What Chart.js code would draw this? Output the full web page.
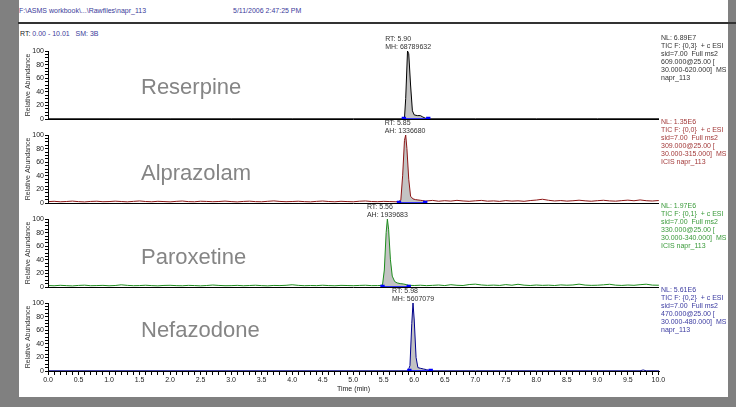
<!DOCTYPE html>
<html><head><meta charset="utf-8">
<script src="https://cdn.jsdelivr.net/npm/chart.js@4/dist/chart.umd.min.js"></script>
<style>
html,body{margin:0;padding:0;width:736px;height:407px;overflow:hidden;background:#808080;font-family:"Liberation Sans",Arial,sans-serif;}
#page{position:absolute;left:19px;top:0;width:709px;height:397px;background:#fff;}
#rule{position:absolute;left:18px;top:22px;width:718px;height:2px;background:#333;}
.hdr{position:absolute;font-size:7px;color:#3b3b9a;white-space:pre;line-height:1;}
canvas{position:absolute;left:0;top:0;}
</style></head><body>
<div id="page"></div>
<div id="rule"></div>
<div class="hdr" style="left:19px;top:7px">F:\ASMS workbook\...\Rawfiles\napr_113</div>
<div class="hdr" style="left:233px;top:7px">5/11/2006 2:47:25 PM</div>
<div class="hdr" style="left:20px;top:30px"><span style="color:#222">RT:</span> 0.00 - 10.01   SM: 3B</div>
<canvas id="c" width="736" height="407"></canvas>
<script>
// ---------------- data ----------------
const panelNames = ['Reserpine','Alprazolam','Paroxetine','Nefazodone'];
const peakRT = [5.90, 5.85, 5.56, 5.98];
const peakRTLabels = ['RT: 5.90','RT: 5.85','RT: 5.56','RT: 5.98'];
const peakAreaLabels = ['MH: 68789632','AH: 1336680','AH: 1939683','MH: 5607079'];
const infoNL = ['NL: 6.89E7','NL: 1.35E6','NL: 1.97E6','NL: 5.61E6'];
const infoFilter = ['TIC F: {0,3}  + c ESI','TIC F: {0,0}  + c ESI','TIC F: {0,1}  + c ESI','TIC F: {0,2}  + c ESI'];
const infoSid = ['sid=7.00  Full ms2','sid=7.00  Full ms2','sid=7.00  Full ms2','sid=7.00  Full ms2'];
const infoPrecursor = ['609.000@25.00 [','309.000@25.00 [','330.000@25.00 [','470.000@25.00 ['];
const infoRange = ['30.000-620.000]  MS','30.000-315.000]  MS','30.000-340.000]  MS','30.000-480.000]  MS'];
const infoFile = ['napr_113','ICIS napr_113','ICIS napr_113','napr_113'];
const integrationWindows = [[5.83, 6.23], [5.75, 6.18], [5.48, 5.91], [5.92, 6.27]];

const xMajorTicks = [0.0,0.5,1.0,1.5,2.0,2.5,3.0,3.5,4.0,4.5,5.0,5.5,6.0,6.5,7.0,7.5,8.0,8.5,9.0,9.5,10.0];
const yTickValues = [0,5,10,15,20,25,30,35,40,45,50,55,60,65,70,75,80,85,90,95,100];
const yTickLabels = ['0','20','40','60','80','100'];

const resTime = [0.00,1.00,2.00,3.00,4.00,5.00,5.80,5.84,5.86,5.89,5.91,5.94,5.97,6.00,6.05,6.10,6.14,6.18,6.23,7.00,8.00,9.00,10.01];
const resAbund = [0.3,0.3,0.3,0.3,0.3,0.3,0.3,1.0,30,100,96,50,12,6,5,5,3,1.2,0.3,0.3,0.3,0.3,0.3];

const alpTime = [0.0,0.1,0.2,0.3,0.4,0.5,0.6,0.7,0.8,0.9,
 1.0,1.1,1.2,1.3,1.4,1.5,1.6,1.7,1.8,1.9,
 2.0,2.1,2.2,2.3,2.4,2.5,2.6,2.7,2.8,2.9,
 3.0,3.1,3.2,3.3,3.4,3.5,3.6,3.7,3.8,3.9,
 4.0,4.1,4.2,4.3,4.4,4.5,4.6,4.7,4.8,4.9,
 5.0,5.1,5.2,5.3,5.4,5.5,5.6,5.7,
 5.74,5.78,5.81,5.84,5.86,5.88,5.91,5.94,5.98,6.02,6.06,6.10,6.14,6.18,
 6.2,6.3,6.4,6.5,6.6,6.7,6.8,6.9,
 7.0,7.1,7.2,7.3,7.4,7.5,7.6,7.7,7.8,7.9,
 8.0,8.1,8.2,8.3,8.4,8.5,8.6,8.7,8.8,8.9,
 9.0,9.1,9.2,9.3,9.4,9.5,9.6,9.7,9.8,9.9,
 10.0,10.01];
const alpAbund = [2.0,2.5,1.8,2.2,2.8,2.0,1.6,2.3,2.6,1.9,
 2.1,2.7,2.2,1.7,2.4,3.0,2.2,1.8,2.5,2.1,
 1.7,2.4,2.9,2.0,1.8,2.6,2.3,1.9,2.2,2.8,
 2.1,1.6,2.3,2.7,2.0,1.8,2.5,3.1,2.3,1.9,
 2.2,2.6,2.0,1.7,2.4,2.9,2.2,1.8,2.5,2.1,
 1.8,2.6,3.0,2.2,1.9,2.4,2.1,1.8,
 2.2,4,40,92,100,80,35,10,6,5,4.5,4,3.5,2.8,
 3.0,3.8,2.6,3.4,2.8,3.9,3.0,2.5,
 3.2,3.8,2.7,3.1,2.4,3.5,2.8,3.2,2.5,3.6,
 4.3,5.5,4.0,3.0,3.6,2.8,3.3,4.1,3.2,2.6,
 3.4,4.0,3.1,2.7,3.5,4.2,3.3,4.5,3.4,2.9,
 3.6,3.5];

const parTime = [0.0,0.1,0.2,0.3,0.4,0.5,0.6,0.7,0.8,0.9,
 1.0,1.1,1.2,1.3,1.4,1.5,1.6,1.7,1.8,1.9,
 2.0,2.1,2.2,2.3,2.4,2.5,2.6,2.7,2.8,2.9,
 3.0,3.1,3.2,3.3,3.4,3.5,3.6,3.7,3.8,3.9,
 4.0,4.1,4.2,4.3,4.4,4.5,4.6,4.7,4.8,4.9,
 5.0,5.1,5.2,5.3,5.4,
 5.44,5.48,5.51,5.54,5.56,5.58,5.61,5.64,5.68,5.72,5.77,5.82,5.87,5.91,
 6.0,6.1,6.2,6.3,6.4,6.5,6.6,6.7,6.8,6.9,
 7.0,7.1,7.2,7.3,7.4,7.5,7.6,7.7,7.8,7.9,
 8.0,8.1,8.2,8.3,8.4,8.5,8.6,8.7,8.8,8.9,
 9.0,9.1,9.2,9.3,9.4,9.5,9.6,9.7,9.8,9.9,
 10.0,10.01];
const parAbund = [2.2,1.8,2.5,2.0,1.6,2.3,2.7,1.9,2.1,2.4,
 1.8,2.2,3.2,2.4,1.9,2.1,2.6,2.0,1.7,2.3,
 2.5,2.0,1.8,2.4,2.1,1.7,2.2,2.9,2.3,1.9,
 2.0,2.4,1.8,2.2,2.6,2.0,1.7,2.3,2.1,2.5,
 3.3,2.4,1.9,2.2,2.0,2.6,2.1,1.8,2.4,2.2,
 1.9,2.3,2.6,2.0,2.1,
 2.2,3,25,80,100,85,40,16,8,6,5,4.5,3.5,2.5,
 2.2,2.6,2.0,2.4,2.9,2.1,3.4,2.5,2.2,3.6,
 4.2,3.0,2.4,2.8,2.3,3.5,2.6,4.0,2.7,2.2,
 2.9,2.4,2.7,2.2,3.1,2.6,3.0,4.2,2.8,2.4,
 2.6,3.2,4.0,2.7,2.3,2.9,2.5,3.4,4.1,2.8,
 2.6,2.5];

const nefTime = [0.00,1.00,2.00,3.00,4.00,5.00,5.90,5.93,5.96,5.98,6.00,6.03,6.06,6.10,6.15,6.20,6.27,7.00,8.00,9.00,9.70,9.75,9.80,10.01];
const nefAbund = [0.3,0.3,0.3,0.3,0.3,0.3,0.3,8,70,100,75,20,5,4,3,2,0.3,0.3,0.3,0.3,0.3,1.5,0.3,0.3];

const traceTimes = [resTime, alpTime, parTime, nefTime];
const traceAbund = [resAbund, alpAbund, parAbund, nefAbund];

// ---------------- styles ----------------
const FONT = '"Liberation Sans", Arial, sans-serif';
const traceColors = ['#000000','#8b1414','#1c8c1c','#00008b'];
const infoColors = ['#333333','#a33a3a','#3a9a3a','#3a3aa0'];
// stacked left axes are laid out with the last-defined one on top
const panelAxes = ['y4','y3','y2','y1'];
const PANEL_MAX = 123.53;

function pts(t, a){ return t.map((v,i)=>({x:v, y:a[i]})); }

const datasets = [];
panelAxes.forEach((ax,i)=>{
  const all = pts(traceTimes[i], traceAbund[i]);
  const w = integrationWindows[i];
  datasets.push({data: all.filter(p=>p.x>=w[0]-1e-9 && p.x<=w[1]+1e-9), yAxisID:ax, xAxisID:'x',
    fill:'origin', backgroundColor:'#c3c3c3', borderWidth:0, pointRadius:0, order:3});
  datasets.push({data: all, yAxisID:ax, xAxisID:'x', fill:false, borderColor:traceColors[i],
    borderWidth:1, pointRadius:0, tension:0, order:2});
  datasets.push({data:[{x:w[0],y:0},{x:w[1],y:0}], yAxisID:ax, xAxisID:'x', fill:false,
    borderColor:'#0000ff', borderWidth:1.5, pointStyle:'rect', pointRadius:2,
    pointBackgroundColor:'#0000ff', pointBorderColor:'#0000ff', order:1});
});

function yScale(){
  return {
    type:'linear', position:'left', stack:'panels', stackWeight:1, offset:false,
    min:0, max:PANEL_MAX,
    afterBuildTicks: s => { s.ticks = yTickValues.map(v=>({value:v})); },
    afterFit: s => { s.width = 48; },
    ticks:{autoSkip:false, font:{size:7, family:FONT}, color:'#222', padding:1,
      callback: v => yTickLabels.includes(String(v)) ? String(v) : ''},
    grid:{drawOnChartArea:true, color: c => (c.tick && c.tick.value===0) ? '#000' : 'rgba(0,0,0,0)',
      lineWidth:1, drawTicks:true, tickLength:3, tickColor:'#000'},
    border:{display:false}
  };
}

const annotPlugin = {
  id:'annot',
  afterDraw(chart){
    const ctx = chart.ctx, xs = chart.scales.x, area = chart.chartArea;
    ctx.save();
    panelAxes.forEach((id,i)=>{
      const ys = chart.scales[id];
      const y0 = ys.getPixelForValue(0), y100 = ys.getPixelForValue(100);
      ctx.strokeStyle='#000'; ctx.lineWidth=1;
      ctx.beginPath(); ctx.moveTo(Math.round(area.left)+0.5, y100); ctx.lineTo(Math.round(area.left)+0.5, y0); ctx.stroke();
      ctx.save();
      ctx.translate(28.5, (y0+y100)/2); ctx.rotate(-Math.PI/2);
      ctx.font = '7px '+FONT; ctx.fillStyle='#333'; ctx.textAlign='center'; ctx.textBaseline='middle';
      ctx.fillText('Relative Abundance', 0, 0);
      ctx.restore();
      const nameLevel = [45, 42.5, 42.5, 58.5][i];
      ctx.font = '22px '+FONT; ctx.fillStyle='#858585'; ctx.textAlign='left'; ctx.textBaseline='middle';
      ctx.fillText(panelNames[i], 141, ys.getPixelForValue(nameLevel));
      ctx.font = '7px '+FONT; ctx.fillStyle='#333';
      const px = xs.getPixelForValue(peakRT[i]);
      const wmax = Math.max(ctx.measureText(peakRTLabels[i]).width, ctx.measureText(peakAreaLabels[i]).width);
      ctx.fillText(peakRTLabels[i], px - wmax/2, y100 - 12);
      ctx.fillText(peakAreaLabels[i], px - wmax/2, y100 - 4);
      ctx.font = '7px '+FONT; ctx.fillStyle = infoColors[i];
      const lines = [infoNL[i], infoFilter[i], infoSid[i], infoPrecursor[i], infoRange[i], infoFile[i]];
      lines.forEach((s,k)=>{ ctx.fillText(s, area.right + 2, ys.top + 3.5 + k*8); });
    });
    ctx.restore();
  }
};

new Chart(document.getElementById('c'), {
  type:'line',
  data:{datasets},
  plugins:[annotPlugin],
  options:{
    responsive:false, animation:false, devicePixelRatio:1,
    layout:{padding:{left:0, right:77, top:35, bottom:0}},
    plugins:{legend:{display:false}, tooltip:{enabled:false}},
    scales:{
      x:{type:'linear', position:'bottom', min:0, max:10.01,
        afterBuildTicks: s => { const t=[]; for(let k=0;k<=100;k++) t.push({value:k/10}); s.ticks=t; },
        afterFit: s => { s.height = 36; },
        ticks:{autoSkip:false, maxRotation:0, minRotation:0, font:{size:7, family:FONT}, color:'#222', padding:1,
          callback: v => { const m = xMajorTicks.find(q=>Math.abs(q-v)<1e-6); return m===undefined ? '' : m.toFixed(1); }},
        grid:{drawOnChartArea:false, drawTicks:true, tickLength:4, color:'#000', tickColor:'#000'},
        border:{display:true, color:'#000', width:1},
        title:{display:true, text:'Time (min)', font:{size:7, family:FONT}, color:'#222', padding:{top:0, bottom:14}}
      },
      y1:yScale(), y2:yScale(), y3:yScale(), y4:yScale()
    }
  }
});
</script>
</body></html>
